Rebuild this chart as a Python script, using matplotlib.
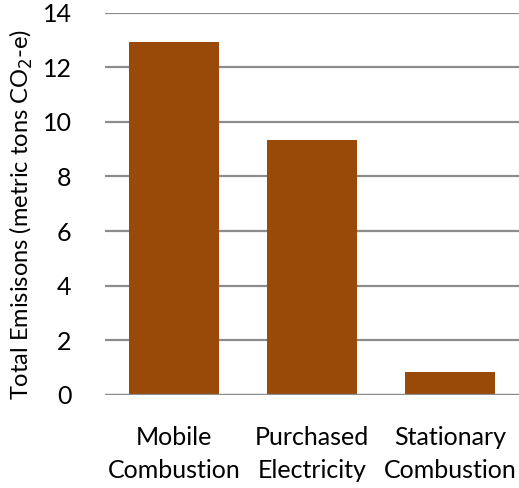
import matplotlib.pyplot as plt

plt.rcParams['font.family'] = ['Lato', 'DejaVu Sans']

categories = ['Mobile\nCombustion', 'Purchased\nElectricity', 'Stationary\nCombustion']
emissions = [12.92, 9.33, 0.84]

fig = plt.figure(figsize=(5.19, 4.88), dpi=100)
ax = fig.add_axes([105 / 519, 1 - 395 / 488, 414 / 519, 382.5 / 488])

ax.bar(range(len(categories)), emissions, width=0.645, color='#9A4A08', zorder=3)

ax.set_xlim(-0.5, 2.5)
ax.set_ylim(0, 14)
ax.set_yticks(range(0, 15, 2))
ax.yaxis.grid(True, color='#8C8C8C', linewidth=1.6, zorder=0)
ax.set_xticks(range(len(categories)))
ax.set_xticklabels(categories, fontsize=18, linespacing=1.55)
ax.tick_params(axis='y', labelsize=18, length=0, pad=24)
ax.tick_params(axis='x', length=0, pad=22)
for s in ax.spines.values():
    s.set_visible(False)
ax.axhline(0, color='#8C8C8C', linewidth=1.6, zorder=4)

fig.text(21 / 519, 1 - 214 / 488, 'Total Emisisons (metric tons CO$_2$-e)',
         rotation=90, ha='center', va='center', fontsize=17)

fig.savefig('out.png', dpi=100)
